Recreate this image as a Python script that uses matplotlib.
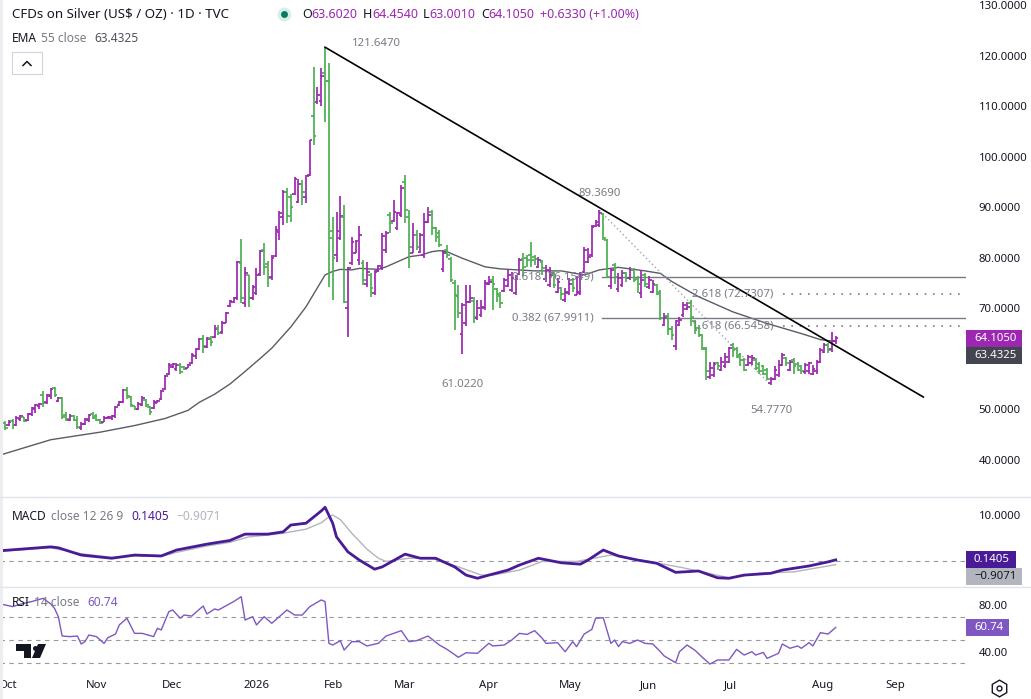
import matplotlib

matplotlib.use("Agg")
import numpy as np
from matplotlib import pyplot as plt
from matplotlib.collections import LineCollection
from matplotlib.lines import Line2D
from matplotlib.patches import Polygon, Rectangle

W, H = 1031, 699
plt.rcParams["font.family"] = ["Noto Sans", "DejaVu Sans"]

TXT = "#131722"
GRAY = "#787b86"
UP = "#9c27b0"
DN = "#4caf50"
EMA_C = "#595c66"
MACD_C = "#4a1b97"
SIG_C = "#b2b5be"
RSI_C = "#7e57c2"
TICK_FS = 8.2

# ---- daily OHLC bars (CFDs on Silver) ----
opens = [
    47.4, 46.9, 47.7, 47.0, 48.1, 48.4, 47.9, 49.0, 50.0, 50.6,
    52.8, 51.4, 52.6, 54.2, 51.6, 52.2, 48.8, 48.0, 48.6, 48.0,
    46.4, 47.2, 47.9, 49.0, 48.6, 47.9, 47.6, 48.2, 48.3, 48.7,
    50.8, 51.5, 53.9, 52.4, 50.6, 50.1, 50.9, 51.8, 50.5, 50.3,
    51.3, 52.0, 54.0, 57.0, 58.4, 58.0, 58.8, 58.4, 58.2, 59.1,
    60.6, 62.0, 64.0, 62.4, 64.2, 64.3, 66.2, 65.3, 67.1, 70.5,
    71.2, 72.0, 79.0, 71.0, 76.5, 72.0, 73.0, 76.8, 81.5, 78.8,
    76.2, 80.4, 85.0, 88.0, 93.0, 92.0, 92.6, 91.0, 94.6, 92.0,
    96.4, 108.0, 110.8, 111.0, 116.5, 115.0, 85.2, 80.5, 84.0, 88.0,
    70.0, 79.0, 81.0, 79.5, 79.0, 74.8, 76.5, 73.0, 77.3, 78.0,
    81.5, 88.5, 87.3, 85.8, 88.5, 95.0, 88.0, 81.0, 84.5, 81.2,
    80.5, 87.0, 89.0, 85.8, 84.8, 77.8, 81.5, 79.8, 75.0, 72.5,
    65.0, 67.0, 71.2, 71.5, 68.0, 68.6, 70.0, 74.8, 75.5, 73.8,
    72.5, 73.5, 74.5, 73.6, 73.0, 76.8, 79.8, 80.0, 80.5, 80.2,
    78.2, 79.2, 75.8, 74.6, 77.0, 73.3, 74.0, 71.6, 73.0, 75.6,
    72.7, 73.0, 77.2, 79.2, 80.5, 86.2, 86.4, 88.6, 83.5, 74.5,
    78.5, 73.8, 74.6, 77.0, 75.9, 77.5, 75.8, 73.0, 76.5, 74.2,
    73.3, 74.6, 73.3, 66.7, 68.5, 66.0, 62.5, 66.6, 68.6, 69.9,
    71.0, 67.4, 66.2, 64.7, 62.0, 56.4, 56.8, 59.2, 57.8, 58.5,
    59.4, 62.8, 62.0, 60.8, 59.8, 58.8, 59.1, 59.8, 59.0, 58.5,
    57.8, 55.2, 56.1, 56.8, 58.8, 60.2, 57.8, 59.8, 59.0, 58.5,
    57.4, 57.5, 57.1, 57.5, 59.4, 61.4, 62.8, 62.0, 63.602,
]
highs = [
    47.7, 47.9, 48.1, 48.6, 48.8, 48.5, 49.3, 50.4, 51.1, 51.2,
    53.6, 53.1, 54.3, 54.5, 52.4, 52.4, 49.4, 49.1, 48.8, 48.6,
    47.5, 48.3, 49.1, 49.4, 49.1, 48.1, 48.6, 48.6, 48.8, 50.7,
    51.6, 54.1, 54.5, 52.6, 50.7, 51.4, 52.6, 52.0, 50.7, 51.8,
    51.9, 53.9, 56.9, 59.1, 59.1, 59.1, 59.1, 58.6, 59.0, 61.2,
    62.2, 64.2, 64.7, 64.4, 64.5, 66.7, 66.7, 67.4, 69.3, 71.7,
    72.3, 79.4, 83.8, 78.2, 76.6, 74.6, 77.9, 81.5, 83.0, 79.3,
    80.5, 86.3, 89.2, 93.4, 93.7, 92.7, 96.0, 95.5, 95.4, 96.4,
    103.3, 117.8, 113.8, 117.5, 121.647, 118.6, 88.1, 89.1, 92.2, 90.4,
    78.2, 84.2, 83.6, 86.3, 79.6, 79.2, 76.9, 77.6, 78.6, 84.8,
    85.2, 89.1, 91.4, 89.1, 94.4, 96.4, 89.4, 86.8, 85.5, 84.8,
    88.8, 90.1, 89.4, 86.1, 85.5, 81.5, 82.5, 80.2, 75.6, 74.6,
    71.0, 74.6, 74.6, 72.3, 71.6, 71.6, 75.6, 76.3, 76.3, 74.0,
    73.3, 75.9, 77.6, 77.2, 76.6, 79.9, 80.9, 80.5, 83.2, 80.5,
    80.2, 79.6, 78.6, 78.2, 77.6, 75.9, 74.3, 74.0, 75.9, 75.9,
    76.3, 77.2, 82.2, 81.9, 86.5, 87.5, 89.369, 88.8, 83.8, 77.9,
    78.9, 76.9, 77.6, 77.2, 78.2, 77.9, 76.3, 77.6, 76.9, 76.3,
    75.6, 74.9, 73.6, 69.0, 69.0, 66.4, 67.7, 68.3, 71.3, 71.3,
    71.6, 67.7, 66.7, 65.0, 62.4, 59.4, 59.4, 59.4, 60.4, 61.1,
    62.4, 63.1, 62.4, 61.1, 60.1, 60.7, 60.7, 60.1, 59.4, 58.8,
    58.1, 56.5, 58.5, 59.8, 61.1, 60.4, 59.8, 60.1, 59.4, 58.8,
    59.1, 59.4, 58.8, 59.8, 62.1, 63.1, 63.1, 65.4, 64.454,
]
lows = [
    46.0, 46.8, 46.1, 46.8, 47.8, 47.5, 47.8, 48.6, 49.2, 50.1,
    50.4, 51.1, 52.1, 52.4, 51.4, 48.1, 47.8, 47.8, 47.8, 46.1,
    45.9, 47.0, 47.5, 48.1, 47.8, 47.1, 47.5, 48.1, 48.0, 48.3,
    50.7, 51.3, 52.0, 50.4, 49.9, 49.9, 50.7, 50.4, 48.9, 50.1,
    51.2, 51.9, 53.9, 56.8, 58.2, 57.6, 57.1, 57.8, 58.1, 59.0,
    60.0, 61.7, 61.1, 62.1, 62.5, 64.1, 64.7, 65.0, 67.0, 70.3,
    71.0, 71.7, 71.0, 70.3, 70.3, 71.7, 72.6, 76.3, 76.6, 74.2,
    75.6, 80.2, 83.5, 86.5, 86.8, 87.0, 92.4, 90.8, 90.4, 90.8,
    96.2, 102.3, 110.5, 110.0, 106.9, 74.3, 71.6, 79.2, 83.5, 71.0,
    64.4, 78.6, 80.9, 78.6, 74.6, 74.3, 72.3, 72.6, 77.2, 77.6,
    80.9, 84.8, 87.1, 85.5, 88.1, 86.8, 77.9, 80.9, 81.5, 80.9,
    79.9, 86.8, 84.5, 83.2, 82.2, 77.2, 79.9, 75.3, 65.7, 68.0,
    61.022, 66.4, 71.0, 67.0, 67.7, 68.3, 69.7, 74.6, 69.7, 71.3,
    70.0, 73.3, 74.3, 73.3, 72.6, 76.6, 76.3, 78.2, 78.2, 78.6,
    77.9, 76.6, 75.3, 74.3, 74.0, 73.0, 71.6, 71.3, 72.6, 73.3,
    72.6, 72.6, 76.9, 78.9, 80.2, 86.1, 86.1, 83.5, 75.9, 73.9,
    74.9, 73.3, 74.3, 75.3, 75.6, 75.3, 73.0, 72.0, 74.3, 73.9,
    73.0, 72.6, 67.7, 66.4, 64.7, 63.7, 61.7, 66.4, 68.3, 69.7,
    66.4, 65.0, 64.4, 61.7, 55.8, 56.1, 56.5, 57.8, 57.5, 58.1,
    59.1, 60.4, 60.1, 58.5, 57.5, 58.5, 58.8, 57.8, 57.1, 56.8,
    55.8, 54.777, 55.8, 56.5, 58.5, 58.5, 57.5, 57.1, 57.5, 57.1,
    57.1, 57.1, 56.8, 57.1, 59.1, 61.1, 61.1, 61.4, 63.001,
]
closes = [
    46.4, 47.6, 46.9, 48.3, 48.6, 47.8, 49.1, 50.2, 50.8, 51.0,
    51.3, 52.8, 54.0, 52.8, 52.2, 48.5, 48.1, 48.6, 48.0, 46.5,
    47.2, 48.1, 48.8, 48.3, 47.9, 47.3, 48.3, 48.5, 48.7, 50.5,
    51.4, 53.8, 52.6, 50.9, 50.1, 51.0, 52.2, 50.8, 49.4, 51.4,
    51.7, 53.7, 56.7, 58.8, 58.9, 58.8, 57.4, 58.0, 58.8, 60.8,
    61.9, 63.9, 62.5, 64.0, 63.3, 66.0, 65.2, 67.0, 69.0, 71.4,
    72.0, 79.2, 72.0, 76.9, 72.0, 74.2, 76.5, 81.3, 78.2, 76.0,
    80.0, 85.5, 88.8, 93.0, 88.2, 90.0, 95.5, 94.5, 93.0, 96.2,
    103.2, 104.0, 112.2, 116.0, 115.0, 84.0, 80.0, 85.2, 88.3, 71.2,
    77.9, 83.2, 83.4, 84.5, 75.6, 77.2, 74.0, 77.2, 78.4, 84.3,
    84.9, 86.9, 89.1, 88.8, 93.7, 89.4, 82.2, 84.5, 82.2, 84.5,
    87.1, 88.5, 85.8, 84.2, 82.5, 80.9, 80.5, 75.6, 72.6, 69.0,
    70.7, 71.3, 72.0, 68.3, 70.0, 70.3, 75.0, 75.3, 74.9, 72.9,
    71.0, 75.6, 76.6, 75.9, 75.7, 79.6, 78.2, 79.6, 79.6, 79.7,
    79.6, 77.9, 77.6, 76.6, 74.6, 75.3, 72.9, 73.3, 74.9, 74.0,
    73.3, 76.6, 81.5, 80.2, 86.1, 87.1, 88.8, 84.0, 76.2, 77.6,
    76.2, 75.9, 77.0, 75.9, 77.6, 75.6, 74.9, 75.6, 74.9, 75.6,
    74.9, 72.9, 68.0, 68.3, 66.0, 64.7, 67.4, 67.7, 70.6, 70.3,
    68.3, 65.7, 64.7, 62.1, 57.5, 58.1, 59.0, 58.5, 59.4, 60.4,
    62.1, 61.8, 60.4, 59.8, 57.8, 60.4, 60.1, 58.1, 57.5, 57.1,
    56.1, 56.1, 57.8, 58.8, 60.7, 59.1, 59.4, 58.5, 57.8, 57.5,
    58.8, 59.1, 58.0, 59.4, 61.8, 62.8, 61.8, 63.6, 64.105,
]

# ---- indicators, sampled at bar index ----
ema_idx = [-2, 12, 25, 34, 42, 48, 51, 55, 59, 63, 67, 70, 75, 79, 84, 86, 88, 91,
           93, 98, 100, 106, 109, 112, 114, 116, 120, 126, 130, 139, 146, 152, 156,
           161, 168, 172, 175, 182, 191, 200, 209, 214, 218]
ema_val = [40.8, 44.0, 45.5, 46.8, 48.2, 49.8, 51.4, 53.0, 55.0, 57.5, 60.1, 62.1,
           66.3, 70.3, 76.6, 77.3, 77.7, 77.6, 77.9, 77.7, 78.2, 80.2, 80.5, 81.2,
           81.4, 81.2, 79.9, 78.2, 77.8, 77.4, 77.4, 76.6, 77.6, 78.1, 77.4, 76.9,
           75.3, 72.3, 69.3, 67.0, 65.0, 63.8, 63.4325]

macd_idx = [-2, 12, 14, 20, 28, 34, 41, 45, 53, 59, 63, 69, 73, 75, 79, 83, 84, 86,
            87, 90, 93, 97, 99, 105, 109, 113, 118, 121, 124, 127, 132, 135, 140,
            146, 151, 153, 157, 161, 166, 171, 176, 182, 187, 190, 194, 201, 204,
            211, 216, 218]
macd_val = [2.1, 3.0, 2.8, 1.2, 0.5, 1.2, 1.0, 2.3, 3.6, 4.4, 5.8, 5.8, 6.3, 7.8,
            8.2, 10.9, 11.7, 8.2, 5.2, 1.9, 0.1, -1.9, -1.4, 1.4, 0.5, 0.5, -1.4,
            -3.2, -3.9, -3.2, -2.1, -1.0, 0.5, -0.5, -0.8, 0.1, 2.3, 1.0, 0.1, -0.6,
            -2.6, -2.3, -3.8, -3.9, -3.2, -2.8, -2.1, -1.2, -0.3, 0.1405]
sig_idx = [-2, 12, 20, 28, 34, 41, 45, 53, 59, 64, 69, 73, 79, 83, 85, 86, 88, 91,
           95, 98, 100, 106, 112, 119, 125, 128, 135, 141, 150, 159, 169, 178, 190,
           198, 207, 218]
sig_val = [2.0, 2.8, 1.5, 0.7, 1.0, 0.9, 1.8, 3.2, 4.0, 5.2, 5.6, 6.0, 6.9, 8.3,
           9.6, 10.0, 9.0, 6.0, 2.5, 0.5, -0.2, 0.5, 0.5, -1.4, -3.2, -3.2, -2.1,
           -0.2, -0.2, 1.2, -0.2, -1.6, -3.8, -2.8, -2.5, -0.9071]

rsi_idx = [-2, 2, 5, 7, 10, 12, 13, 14, 15, 17, 19, 20, 21, 22, 24, 26, 27, 29, 30,
           32, 34, 36, 39, 40, 41, 43, 44, 46, 47, 49, 52, 53, 55, 56, 60, 62, 63,
           65, 66, 68, 70, 72, 74, 76, 78, 80, 83, 84, 85, 86, 88, 89, 91, 93, 95,
           98, 100, 104, 106, 108, 111, 114, 116, 119, 121, 124, 127, 128, 131, 133,
           135, 137, 139, 141, 142, 145, 147, 149, 150, 152, 154, 155, 157, 159,
           160, 161, 162, 164, 166, 168, 170, 172, 173, 176, 177, 179, 181, 183,
           185, 187, 190, 192, 194, 196, 197, 199, 200, 203, 204, 206, 208, 209,
           211, 212, 214, 216, 218]
rsi_val = [81.5, 78.6, 81.5, 82.9, 85.7, 80.9, 77.1, 70.0, 53.4, 52.9, 53.4, 46.6,
           48.6, 54.3, 52.9, 47.1, 52.0, 55.1, 62.9, 68.6, 55.7, 55.7, 52.9, 60.0,
           58.6, 74.3, 75.7, 68.6, 71.4, 70.5, 79.1, 72.3, 76.6, 75.7, 82.9, 87.1,
           67.1, 70.0, 62.9, 70.0, 64.3, 70.0, 75.7, 71.4, 71.4, 78.6, 84.3, 82.9,
           47.2, 45.7, 49.4, 41.4, 48.6, 48.6, 44.9, 47.2, 53.4, 58.0, 48.6, 49.4,
           53.4, 45.7, 42.0, 35.2, 39.1, 38.6, 47.2, 44.9, 45.7, 50.0, 55.7, 54.8,
           58.0, 51.4, 47.1, 47.7, 40.0, 48.6, 44.3, 55.1, 59.1, 68.6, 69.1, 47.1,
           50.0, 44.3, 48.6, 47.1, 50.0, 47.1, 46.6, 40.0, 36.3, 30.6, 40.0, 45.7,
           41.4, 35.2, 29.4, 32.9, 32.9, 42.0, 37.1, 40.0, 37.1, 39.4, 34.3, 38.6,
           46.6, 42.9, 44.9, 42.9, 47.7, 44.9, 56.3, 55.1, 60.74]

# ---- drawings ----
fib_levels = [76.1549, 67.9911]
fib_ratios = ["0.618", "0.382"]
ext_levels = [72.7307, 66.5458]
ext_ratios = ["2.618", "1.618"]
ext_start = 204.2
trend_end = (241, 52.45)

month_pos = [0.7, 24.1, 43.8, 66.1, 86.1, 105.0, 126.8, 148.3, 168.8, 190.3, 214.7, 233.6]
month_lbl = ["Oct", "Nov", "Dec", "2026", "Feb", "Mar", "Apr", "May", "Jun", "Jul", "Aug", "Sep"]

# tick labels that stay visible (the rest sit under the value tags)
price_ticks = [40, 50, 70, 80, 90, 100, 110, 120, 130]
macd_ticks = [10]
rsi_ticks = [40, 80]
rsi_levels = [70, 50, 30]


def fx(x):
    return x / W


def fy(y):
    return 1 - y / H


fig = plt.figure(figsize=(W / 100, H / 100), dpi=100)
fig.patch.set_facecolor("white")
rend = fig.canvas.get_renderer()

ax = fig.add_axes([0, fy(497), 966 / W, 497 / H])
ax_m = fig.add_axes([0, fy(587), 966 / W, 90 / H])
ax_r = fig.add_axes([0, fy(672), 966 / W, 85 / H])
XMIN, XMAX = -1.31, 252.2
for a in (ax, ax_m, ax_r):
    a.set_xlim(XMIN, XMAX)
    a.set_facecolor("none")
    for s in a.spines.values():
        s.set_visible(False)
    a.yaxis.tick_right()
    a.tick_params(axis="y", length=0, pad=9, labelsize=TICK_FS, labelcolor=TXT)
    a.tick_params(axis="x", length=0)
ax.set_xticks([])
ax_m.set_xticks([])

ax.set_ylim(32.67, 130.99)
ax.set_yticks(price_ticks, [f"{v:.4f}" for v in price_ticks])
ax_m.set_ylim(-5.82, 13.96)
ax_m.set_yticks(macd_ticks, [f"{v:.4f}" for v in macd_ticks])
ax_r.set_ylim(22.6, 95.4)
ax_r.set_yticks(rsi_ticks, [f"{v:.2f}" for v in rsi_ticks])
ax_r.set_xticks(month_pos, month_lbl)
ax_r.tick_params(axis="x", pad=6, labelsize=TICK_FS, labelcolor=TXT)
ax_r.get_xticklabels()[3].set_fontweight("bold")

# OHLC bars
o, hi, lo, c = map(np.array, (opens, highs, lows, closes))
n = len(c)
idx = np.arange(n)
segs, cols = [], []
for i in idx:
    col = UP if c[i] >= o[i] else DN
    segs += [[(i, lo[i]), (i, hi[i])], [(i - 0.7, o[i]), (i, o[i])], [(i, c[i]), (i + 0.7, c[i])]]
    cols += [col] * 3
ax.add_collection(LineCollection(segs, colors=cols, linewidths=1.25, zorder=3))
ax.plot(ema_idx, ema_val, color=EMA_C, lw=1.0, zorder=2)

# trend line from the January top
pk = int(np.argmax(hi))
ax.plot([pk, trend_end[0]], [hi[pk], trend_end[1]], color="black", lw=1.2, zorder=4)
ax.text(pk + 13.5, hi[pk] + 0.7, f"{hi[pk]:.4f}", color=GRAY, fontsize=TICK_FS, ha="center", va="center")

# swing high / lows
pk2 = 140 + int(np.argmax(hi[140:]))
lo1 = 100 + int(np.argmin(lo[100:150]))
lo2 = 150 + int(np.argmin(lo[150:]))
ax.plot([pk2, lo2], [hi[pk2], lo[lo2]], color="#a0a3ab", lw=1, ls=(0, (1, 2)), zorder=2)
ax.text(pk2, hi[pk2] + 3.4, f"{hi[pk2]:.4f}", color=GRAY, fontsize=TICK_FS, ha="center", va="center")
ax.text(lo1, lo[lo1] - 6.0, f"{lo[lo1]:.4f}", color=GRAY, fontsize=TICK_FS, ha="center", va="center")
ax.text(lo2, lo[lo2] - 4.9, f"{lo[lo2]:.4f}", color=GRAY, fontsize=TICK_FS, ha="center", va="center")

for lev, rat in zip(fib_levels, fib_ratios):
    ax.plot([pk2 + 0.7, XMAX], [lev, lev], color=GRAY, lw=1, zorder=2)
    ax.text(pk2 - 1.6, lev, f"{rat} ({lev:.4f})", color=GRAY, fontsize=TICK_FS, ha="right", va="center", zorder=5)
for lev, rat in zip(ext_levels, ext_ratios):
    ax.plot([ext_start, XMAX], [lev, lev], color=GRAY, lw=1.2, ls=(0, (1, 4)), zorder=2)
    ax.text(ext_start - 2.6, lev, f"{rat} ({lev:.4f})", color=GRAY, fontsize=TICK_FS, ha="right", va="center", zorder=5)

# MACD pane
ax_m.axhline(0, color="#9598a1", lw=0.8, ls=(0, (4, 4)))
ax_m.plot(sig_idx, sig_val, color=SIG_C, lw=1.0)
ax_m.plot(macd_idx, macd_val, color=MACD_C, lw=2.0)

# RSI pane
for lev in rsi_levels:
    ax_r.axhline(lev, color="#9598a1", lw=0.8, ls=(0, (4, 4)))
ax_r.plot(rsi_idx, rsi_val, color=RSI_C, lw=1.0)

# pane separators and left strip
for yy in (497, 587):
    fig.add_artist(Line2D([0, 1], [fy(yy), fy(yy)], color="#e0e3eb", lw=1, transform=fig.transFigure))
fig.add_artist(Rectangle((0, 0), fx(3), 1, transform=fig.transFigure, fc="#eceef2", ec="none"))


def rich(x, y, pieces, size):
    for text, color, gap in pieces:
        x += gap
        t = fig.text(fx(x), fy(y), text, color=color, fontsize=size, va="center", ha="left")
        x += t.get_window_extent(rend).width
    return x


def tag(axis, value, text, fc, tc, dy=0.0):
    y = H - axis.transData.transform((0, value))[1] + dy
    t = fig.text(fx(974), fy(y), text, color=tc, fontsize=TICK_FS, va="center", ha="left", zorder=6)
    w = t.get_window_extent(rend).width
    fig.add_artist(Rectangle((fx(966), fy(y + 8.5)), (w + 14) / W, 17 / H,
                             transform=fig.transFigure, fc=fc, ec="none", zorder=5))


# header
rich(12, 14, [("CFDs on Silver (US$ / OZ) · 1D · TVC", TXT, 0)], 9.6)
fig.add_artist(Line2D([fx(284)], [fy(14)], marker="o", ms=10, mfc="#d7efe9", mec="none", transform=fig.transFigure))
fig.add_artist(Line2D([fx(284)], [fy(14)], marker="o", ms=5, mfc="#0b7a62", mec="none", transform=fig.transFigure))
rich(302, 14, [("O", TXT, 0), (f"{o[-1]:.4f}", UP, 0), ("H", TXT, 5), (f"{hi[-1]:.4f}", UP, 0),
               ("L", TXT, 5), (f"{lo[-1]:.4f}", UP, 0), ("C", TXT, 5), (f"{c[-1]:.4f}", UP, 0),
               ("+0.6330 (+1.00%)", UP, 5)], 9.0)
rich(12, 38, [("EMA", TXT, 0), ("55 close", GRAY, 4), (f"{ema_val[-1]:.4f}", "#50535e", 8)], 8.6)
fig.add_artist(Rectangle((fx(12), fy(74)), 30 / W, 22 / H, transform=fig.transFigure,
                         fc="white", ec="#d1d4dc", lw=0.8))
fig.add_artist(Line2D([fx(23), fx(27), fx(31)], [fy(65.5), fy(61.5), fy(65.5)], color=TXT, lw=1.1,
                      transform=fig.transFigure))
rich(12, 516, [("MACD", TXT, 0), ("close 12 26 9", GRAY, 4), (f"{macd_val[-1]:.4f}", MACD_C, 8),
               (f"\u2212{abs(sig_val[-1]):.4f}", SIG_C, 8)], 8.6)
rich(12, 603, [("RSI", TXT, 0), ("14 close", GRAY, 4), (f"{rsi_val[-1]:.2f}", RSI_C, 8)], 8.6)

# price scale tags
tag(ax, c[-1], f"{c[-1]:.4f}", UP, "white")
tag(ax, c[-1], f"{ema_val[-1]:.4f}", "#434651", "white", dy=17)
tag(ax_m, macd_val[-1], f"{macd_val[-1]:.4f}", MACD_C, "white")
tag(ax_m, macd_val[-1], f"\u2212{abs(sig_val[-1]):.4f}", SIG_C, TXT, dy=17)
tag(ax_r, rsi_val[-1], f"{rsi_val[-1]:.2f}", RSI_C, "white")

# TradingView logo and settings icon
logo_t = [(16, 644), (31, 644), (31, 658), (24, 658), (24, 650.5), (16, 650.5)]
logo_s = [(38, 644), (46, 644), (40, 658), (32, 658)]
for pts in (logo_t, logo_s):
    fig.add_artist(Polygon([(fx(a), fy(b)) for a, b in pts], closed=True, fc=TXT, ec="none",
                           transform=fig.transFigure))
fig.add_artist(Line2D([fx(34.5)], [fy(647.5)], marker="o", ms=3.6, mfc=TXT, mec="none", transform=fig.transFigure))
fig.add_artist(Line2D([fx(999)], [fy(688)], marker="h", ms=12, mfc="none", mec=TXT, mew=1.0, transform=fig.transFigure))
fig.add_artist(Line2D([fx(999)], [fy(688)], marker="o", ms=3.5, mfc="none", mec=TXT, mew=1.0, transform=fig.transFigure))

fig.savefig("out.png", dpi=100, facecolor="white")
